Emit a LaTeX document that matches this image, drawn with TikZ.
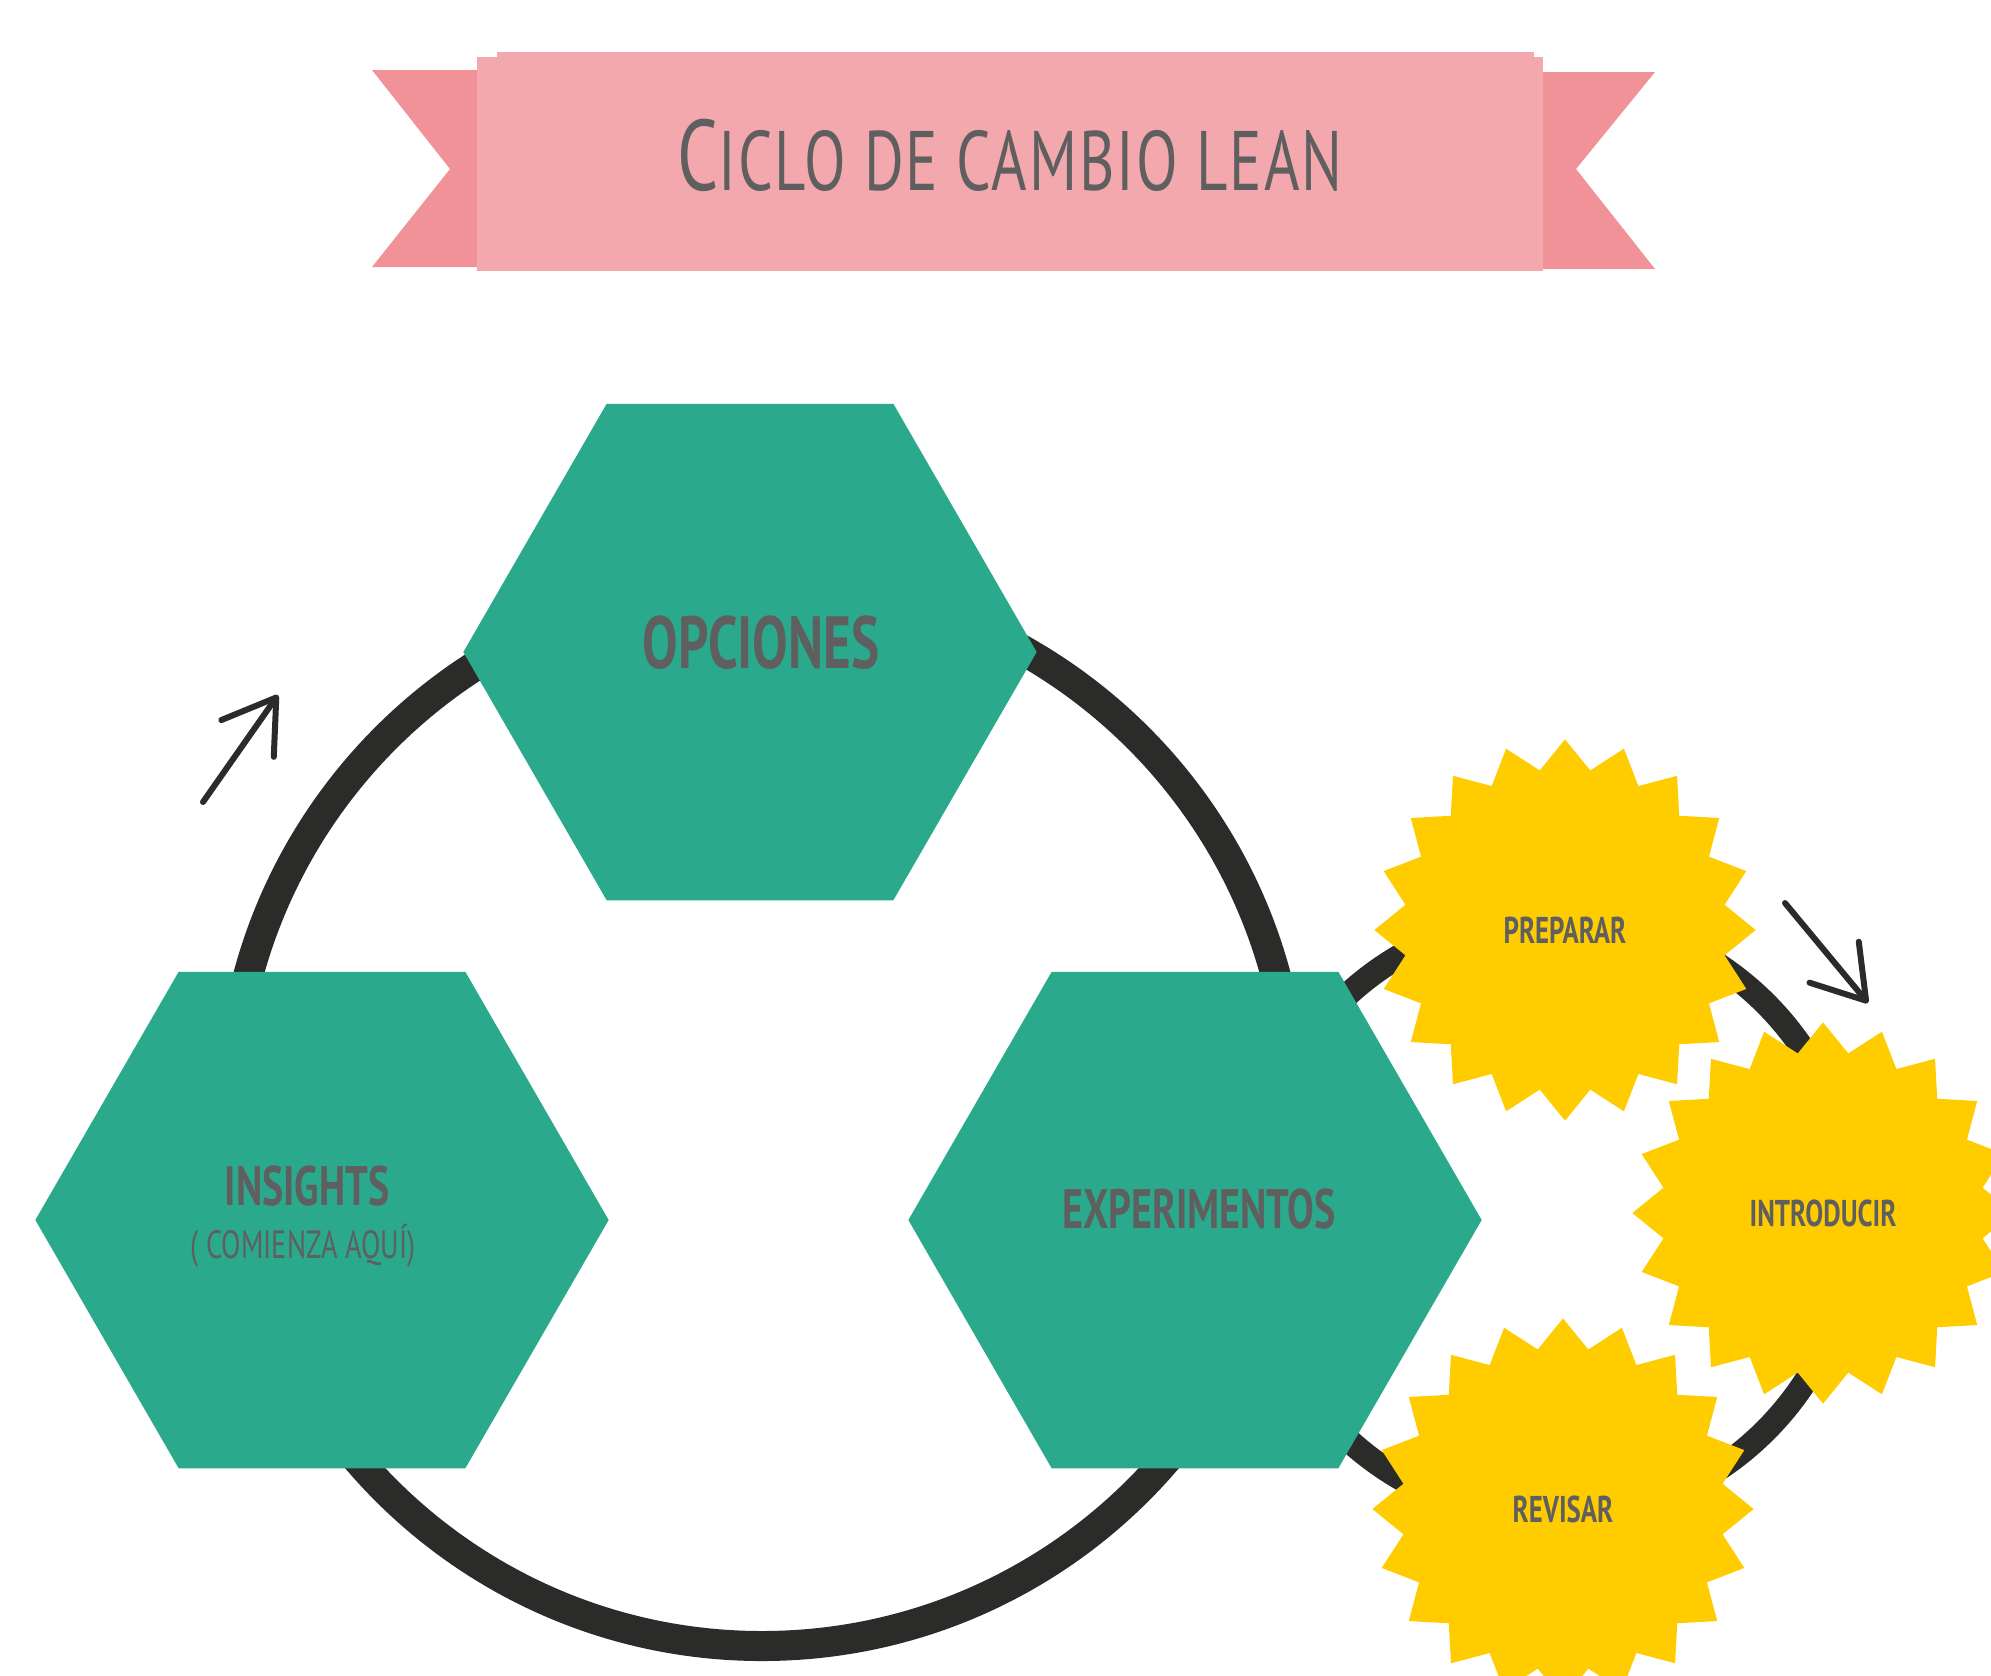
\documentclass[tikz,border=0pt]{standalone}
\usepackage{fontspec}
\usetikzlibrary{shapes.geometric,arrows.meta}

\newfontfamily\handfont[FakeStretch=0.72]{PT Sans}
\newfontfamily\bannerfont[FakeStretch=0.72,LetterSpace=2.4]{PT Sans}

\definecolor{hexgreen}{HTML}{2BA98D}
\definecolor{sunyellow}{HTML}{FFCC00}
\definecolor{ribbonpink}{HTML}{F3A8AE}
\definecolor{ribbondark}{HTML}{F09298}
\definecolor{inkgray}{HTML}{5F5F5F}
\definecolor{ringblack}{HTML}{2B2B2A}

\begin{document}
\begin{tikzpicture}[%
x=0.01cm,
y=-0.01cm,
hexa/.style={
regular polygon,
regular polygon sides=6,
fill=hexgreen,
inner sep=0pt,
minimum size=5.73cm,},
burst/.style={
star,
star points=20,
star point ratio=1.18,
fill=sunyellow,
inner sep=0pt,
minimum size=3.81cm,
text=inkgray,
font=\handfont\bfseries\fontsize{10.6}{12}\selectfont,},
lbl/.style={
text=inkgray,
inner sep=0pt,
anchor=base,},
ring/.style={
draw=ringblack,
line width=0.30cm,},
pointer/.style={
draw=ringblack,
line width=0.06cm,
line cap=round,
-{Straight Barb[length=5mm,width=6.4mm,round]},}
]
\useasboundingbox (0,0) rectangle (1991,1675);
\clip (0,0) rectangle (1991,1675);
% banner
\fill[ribbondark] (372,70) -- (477,70) -- (477,267) -- (372,267) -- (450,169) -- cycle;
\fill[ribbondark] (1655,72) -- (1543,72) -- (1543,269) -- (1655,269) -- (1576,169) -- cycle;
\fill[ribbonpink] (497,52) rectangle (1534,60);
\fill[ribbonpink] (477,57) rectangle (1543,271);
\node[lbl,font=\bannerfont\fontsize{24}{26}\selectfont] (title) at (1010,190)
  {{\fontsize{28.5}{30}\selectfont C}ICLO DE CAMBIO LEAN};
% rings
\draw[ring] (762,1114) circle[radius=532];
\draw[ring,line width=0.24cm] (1552,1217) circle[radius=302];
% hexagons
\node[hexa] (opciones) at (750,652) {};
\node[hexa] (insights) at (322,1220) {};
\node[hexa] (experimentos) at (1195,1220) {};
\node[lbl,font=\handfont\bfseries\fontsize{21}{24}\selectfont] (opctxt) at (761,668) {OPCIONES};
\node[lbl,font=\handfont\bfseries\fontsize{15.8}{18}\selectfont] (instxt) at (307,1205) {INSIGHTS};
\node[lbl,font=\handfont\fontsize{11.2}{13}\selectfont] (comtxt) at (303,1258) {( COMIENZA AQUÍ)};
\node[lbl,font=\handfont\bfseries\fontsize{15.8}{18}\selectfont] (exptxt) at (1199,1228) {EXPERIMENTOS};
% stars
\node[burst] (preparar) at (1565,930) {PREPARAR};
\node[burst] (introducir) at (1823,1213) {INTRODUCIR};
\node[burst] (revisar) at (1563,1509) {REVISAR};
% arrows
\coordinate (upfrom) at (203,802);
\coordinate (upto) at (278,695);
\coordinate (downfrom) at (1785,903);
\coordinate (downto) at (1868,1003);
\draw[pointer] (upfrom) -- (upto);
\draw[pointer] (downfrom) -- (downto);
\end{tikzpicture}
\end{document}
